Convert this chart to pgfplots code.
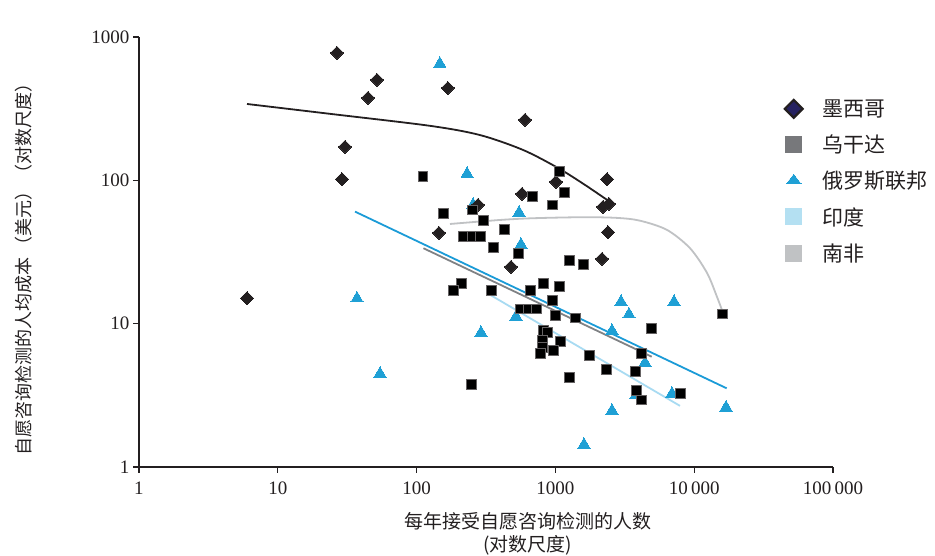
\documentclass[border=0pt]{standalone}
\usepackage{pgfplots}
\pgfplotsset{compat=1.18}
\usepackage{fontspec}
\setmainfont{Liberation Serif}
\newfontfamily\cjk{Noto Sans CJK SC}
\definecolor{mxk}{HTML}{231F20}
\definecolor{rublue}{HTML}{1FA0D5}
\definecolor{rulinec}{HTML}{1B9BD7}
\definecolor{ugrey}{HTML}{808285}
\definecolor{uglegend}{HTML}{77787B}
\definecolor{inblue}{HTML}{A8DBF2}
\definecolor{inlegend}{HTML}{B4E0F2}
\definecolor{zagrey}{HTML}{C0C2C4}
\definecolor{navy}{HTML}{262261}

\pgfplotstableread{
x y
26.7 774
51.8 502
44.7 376
168 441
30.5 171
29.0 102
604 264
6.0 15.1
277 67.4
145 43
575 80.4
1010 97.5
479 24.9
2354 102
2203 65.2
2433 68.4
2393 43.6
2167 28.3
}\mexico

\pgfplotstableread{
x y
111 107
1062 116
678 77.8
1153 83
945 67.4
155 59.2
251 62.2
301 52.9
426 45.8
216 40.9
251 40.9
286 40.9
355 34.3
538 31.1
1253 27.8
1581 26.1
209 19.2
183 17.2
344 17.2
814 19.2
1062 18.3
656 17.2
945 14.6
556 12.7
635 12.7
725 12.7
993 11.5
1384 11.0
4884 9.33
814 9.04
870 8.75
801 7.70
801 6.88
774 6.25
1079 7.58
961 6.55
1746 6.05
4138 6.25
2315 4.83
3746 4.68
1253 4.25
247 3.80
3810 3.45
4138 2.94
7902 3.28
15850 11.7
}\squares

\pgfplotstableread{
x y
147 651
231 111
255 67.5
547 59.5
565 35.6
520 11.2
291 8.64
37.2 15.0
54.5 4.47
2970 14.2
7154 14.2
3390 11.6
2557 8.92
4421 5.34
6918 3.25
3810 3.19
16950 2.60
2557 2.47
1607 1.43
}\russia

\begin{document}
\begin{tikzpicture}
\begin{axis}[
  scale only axis, width=694pt, height=430pt,
  xmode=log, ymode=log,
  xmin=1, xmax=100000, ymin=1, ymax=1000,
  axis x line*=bottom, axis y line*=left,
  x axis line style={-, mxk, line width=1.2pt},
  y axis line style={-, mxk, line width=1.2pt},
  xtick={1,10,100,1000,10000,100000},
  xticklabels={1,10,100,1000,10\,000,100\,000},
  ytick={1,10,100,1000},
  yticklabels={1,10,100,1000},
  xminorticks=false, yminorticks=false,
  tick align=outside, major tick length=6pt,
  tick style={mxk, line width=1.2pt},
  ticklabel style={font=\fontsize{19}{21}\selectfont, text=mxk},
  xticklabel style={yshift=-5pt},
  xlabel={每年接受自愿咨询检测的人数\\(对数尺度)},
  xlabel style={at={(axis description cs:0.5605,-0.156)}, anchor=center, align=center, font=\cjk\fontsize{19}{23}\selectfont, text=mxk},
  ylabel={自愿咨询检测的人均成本\,（美元）（对数尺度）},
  ylabel style={at={(axis description cs:-0.166,0.47)}, anchor=center, font=\cjk\fontsize{18}{20}\selectfont, text=mxk},
  legend style={at={(0.926,0.864)}, anchor=north west, draw=none, fill=none,
    font=\cjk\fontsize{21}{22}\selectfont, text=mxk, row sep=13pt, column sep=18pt},
  legend cell align=left,
  clip=false,
]
% trend lines
\addplot[forget plot, mxk, line width=1.8pt, smooth, tension=0.5] coordinates {
 (6.0,341) (23.8,291) (125,240) (286,207) (584,163) (1044,122) (1634,92.9) (2474,70.7)};
\addplot[forget plot, rulinec, line width=1.8pt] coordinates {(36.0,60.5) (17140,3.54)};
\addplot[forget plot, ugrey, line width=1.8pt] coordinates {(112,33.6) (4943,5.88)};
\addplot[forget plot, inblue, line width=1.8pt] coordinates {(338,15.9) (7902,2.67)};
\addplot[forget plot, zagrey, line width=1.8pt, smooth, tension=0.5] coordinates {
 (174,49.6) (399,52.9) (690,54.4) (1581,55.3) (2779,54.7) (4069,52.3) (6368,45.1) (9333,33.6) (12370,22.6) (14590,15.4) (16130,11.9)};
% markers
\addplot[forget plot, only marks, mark=triangle*, mark size=7pt, mark options={fill=rublue, draw=rublue, line width=0pt}] table {\russia};
\addplot[forget plot, only marks, mark=square*, mark size=4.6pt, mark options={rotate=45, fill=mxk, draw=mxk, line width=0pt}] table {\mexico};
\addplot[forget plot, only marks, mark=square*, mark size=4.8pt, mark options={fill=black, draw=mxk!70, line width=0.4pt}] table {\squares};
% legend
\addlegendimage{only marks, mark=square*, mark size=6.3pt, mark options={rotate=45, fill=navy, draw=mxk, line width=2.2pt}}
\addlegendentry{墨西哥}
\addlegendimage{only marks, mark=square*, mark size=8pt, mark options={fill=uglegend, draw=uglegend, line width=0pt}}
\addlegendentry{乌干达}
\addlegendimage{only marks, mark=triangle*, mark size=8.5pt, mark options={fill=rublue, draw=rublue, line width=0pt, yscale=0.75}}
\addlegendentry{俄罗斯联邦}
\addlegendimage{only marks, mark=square*, mark size=8pt, mark options={fill=inlegend, draw=inlegend, line width=0pt}}
\addlegendentry{印度}
\addlegendimage{only marks, mark=square*, mark size=8pt, mark options={fill=zagrey, draw=zagrey, line width=0pt}}
\addlegendentry{南非}
\end{axis}
\pgfresetboundingbox
\path[use as bounding box] ([shift={(-139pt,-89pt)}]current axis.south west) rectangle ([shift={(102pt,37pt)}]current axis.north east);
\end{tikzpicture}
\end{document}
